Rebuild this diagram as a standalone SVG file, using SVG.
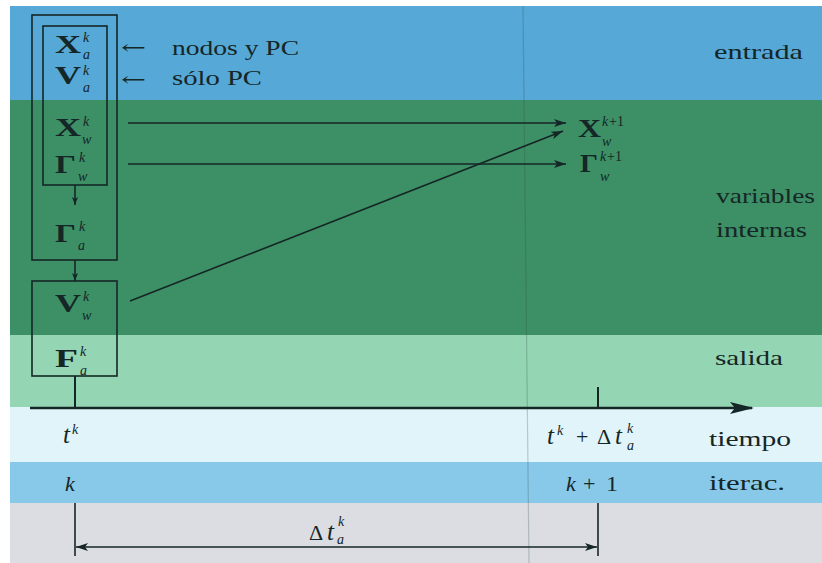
<svg xmlns="http://www.w3.org/2000/svg" width="822" height="563" viewBox="0 0 822 563">
<defs>
<style>
text{font-family:'Liberation Serif','DejaVu Serif','Times New Roman',serif;fill:#152626}
.t{font-size:21px}
.b{font-weight:bold;font-size:25px}
.i{font-style:italic;font-size:14px}
.p{font-size:14px}
.m{font-style:italic;font-size:22px}
.tt{font-style:italic;font-size:25px}
.r{font-size:22px}
.s{font-family:'DejaVu Serif',serif;font-size:20px}
.box{fill:none;stroke:#152626;stroke-width:1.6}
.ln{fill:none;stroke:#152626;stroke-width:1.6}
</style>
<marker id="ah" viewBox="0 0 12 8" refX="12" refY="4" markerWidth="12" markerHeight="8" markerUnits="userSpaceOnUse" orient="auto">
<path d="M0,0 L12,4 L0,8 L3,4 z" fill="#152626"/>
</marker>
<marker id="as" viewBox="0 0 8 6" refX="8" refY="3" markerWidth="8" markerHeight="6" markerUnits="userSpaceOnUse" orient="auto">
<path d="M0,0 L8,3 L0,6 L2,3 z" fill="#152626"/>
</marker>
<marker id="ad" viewBox="0 0 12 8" refX="12" refY="4" markerWidth="12" markerHeight="8" markerUnits="userSpaceOnUse" orient="auto-start-reverse">
<path d="M0,0 L12,4 L0,8 L3,4 z" fill="#152626"/>
</marker>
<marker id="ax" viewBox="0 0 24 12" refX="22" refY="6" markerWidth="24" markerHeight="12" markerUnits="userSpaceOnUse" orient="auto">
<path d="M0,0 L24,6 L0,12 L5,6 z" fill="#152626"/>
</marker>
</defs>
<rect x="0" y="0" width="822" height="563" fill="#ffffff"/>
<g id="bands">
<rect x="10" y="6" width="812" height="94" fill="#56a8d6"/>
<rect x="10" y="100" width="812" height="235" fill="#3d9065"/>
<rect x="10" y="335" width="812" height="72" fill="#94d5b3"/>
<rect x="10" y="407" width="812" height="55" fill="#e1f4f9"/>
<rect x="10" y="462" width="812" height="41" fill="#88c9ea"/>
<rect x="10" y="503" width="812" height="60" fill="#dcdde2"/>
<line x1="523" y1="6" x2="529" y2="563" stroke="#2a4a4a" stroke-opacity="0.25" stroke-width="1.2"/>
</g>
<g id="band-labels">
<text class="t" x="714" y="59" textLength="89" lengthAdjust="spacingAndGlyphs">entrada</text>
<text class="t" x="716" y="203" textLength="99" lengthAdjust="spacingAndGlyphs">variables</text>
<text class="t" x="716" y="237" textLength="91" lengthAdjust="spacingAndGlyphs">internas</text>
<text class="t" x="715" y="365" textLength="68" lengthAdjust="spacingAndGlyphs">salida</text>
<text class="t" x="709" y="446" textLength="82" lengthAdjust="spacingAndGlyphs">tiempo</text>
<text class="t" x="709" y="490" textLength="76" lengthAdjust="spacingAndGlyphs">iterac.</text>
</g>
<g id="node-outer"><rect class="box" x="32" y="15" width="85" height="245"/></g>
<g id="node-inner"><rect class="box" x="43" y="26" width="64" height="159"/></g>
<g id="node-lower"><rect class="box" x="32" y="281" width="85" height="95"/></g>
<g id="node-Xa">
<text class="b" x="55" y="53" textLength="26" lengthAdjust="spacingAndGlyphs">X</text>
<text class="i" x="83" y="42">k</text><text class="i" x="83" y="59">a</text>
</g>
<g id="node-Va">
<text class="b" x="55" y="84" textLength="26" lengthAdjust="spacingAndGlyphs">V</text>
<text class="i" x="83" y="75">k</text><text class="i" x="83" y="92">a</text>
</g>
<g id="node-Xw">
<text class="b" x="55" y="136" textLength="26" lengthAdjust="spacingAndGlyphs">X</text>
<text class="i" x="83" y="126">k</text><text class="i" x="82" y="144">w</text>
</g>
<g id="node-Gw">
<text class="b" x="55" y="173" textLength="21" lengthAdjust="spacingAndGlyphs">Γ</text>
<text class="i" x="79" y="162">k</text><text class="i" x="78" y="181">w</text>
</g>
<g id="node-Ga">
<text class="b" x="55" y="242" textLength="21" lengthAdjust="spacingAndGlyphs">Γ</text>
<text class="i" x="79" y="231">k</text><text class="i" x="78" y="250">a</text>
</g>
<g id="node-Vw">
<text class="b" x="55" y="312" textLength="26" lengthAdjust="spacingAndGlyphs">V</text>
<text class="i" x="83" y="301">k</text><text class="i" x="82" y="320">w</text>
</g>
<g id="node-Fa">
<text class="b" x="55" y="367" textLength="23" lengthAdjust="spacingAndGlyphs">F</text>
<text class="i" x="80" y="356">k</text><text class="i" x="80" y="375">a</text>
</g>
<g id="node-notes">
<text class="s" x="121" y="54" textLength="25" lengthAdjust="spacingAndGlyphs">←</text>
<text class="s" x="121" y="86" textLength="25" lengthAdjust="spacingAndGlyphs">←</text>
<text class="t" x="172" y="55" textLength="127" lengthAdjust="spacingAndGlyphs">nodos y PC</text>
<text class="t" x="172" y="85" textLength="90" lengthAdjust="spacingAndGlyphs">sólo PC</text>
</g>
<g id="node-Xw1">
<text class="b" x="578" y="137" textLength="23" lengthAdjust="spacingAndGlyphs">X</text>
<text class="i" x="602" y="126">k</text><text class="p" x="609" y="126">+1</text><text class="i" x="602" y="146">w</text>
</g>
<g id="node-Gw1">
<text class="b" x="580" y="172" textLength="18" lengthAdjust="spacingAndGlyphs">Γ</text>
<text class="i" x="600" y="161">k</text><text class="p" x="607" y="161">+1</text><text class="i" x="600" y="181">w</text>
</g>
<g id="node-time">
<text class="tt" x="63" y="443">t</text><text class="i" x="72" y="434">k</text>
<text class="tt" x="547" y="444">t</text><text class="i" x="557" y="435">k</text>
<text class="r" x="576" y="444">+</text>
<text class="r" x="597" y="444">Δ</text><text class="tt" x="615" y="444">t</text>
<text class="i" x="627" y="433">k</text><text class="i" x="627" y="450">a</text>
</g>
<g id="node-iter">
<text class="m" x="65" y="491">k</text>
<text class="m" x="566" y="491">k</text><text class="r" x="583" y="491">+</text><text class="r" x="606" y="491" textLength="12" lengthAdjust="spacingAndGlyphs">1</text>
</g>
<g id="node-dim">
<text class="r" x="309" y="540">Δ</text><text class="tt" x="327" y="540">t</text>
<text class="i" x="338" y="526">k</text><text class="i" x="337" y="544">a</text>
</g>
<g id="connectors">
<line class="ln" x1="75" y1="185" x2="75" y2="205" marker-end="url(#as)"/>
<line class="ln" x1="75" y1="260" x2="75" y2="281" marker-end="url(#as)"/>
<line class="ln" x1="128" y1="123" x2="566" y2="123" marker-end="url(#ah)"/>
<line class="ln" x1="128" y1="164" x2="566" y2="164" marker-end="url(#ah)"/>
<line class="ln" x1="130" y1="301" x2="563" y2="131" marker-end="url(#ah)"/>
<line x1="30" y1="408" x2="752" y2="408" stroke="#152626" stroke-width="2.6" marker-end="url(#ax)"/>
<line x1="75" y1="376" x2="75" y2="408" stroke="#152626" stroke-width="2"/>
<line x1="598" y1="387" x2="598" y2="408" stroke="#152626" stroke-width="2"/>
<line x1="75" y1="503" x2="75" y2="556" stroke="#152626" stroke-width="1.6"/>
<line x1="598" y1="503" x2="598" y2="556" stroke="#152626" stroke-width="1.6"/>
<line class="ln" x1="76" y1="547" x2="597" y2="547" marker-start="url(#ad)" marker-end="url(#ad)"/>
</g>
</svg>
